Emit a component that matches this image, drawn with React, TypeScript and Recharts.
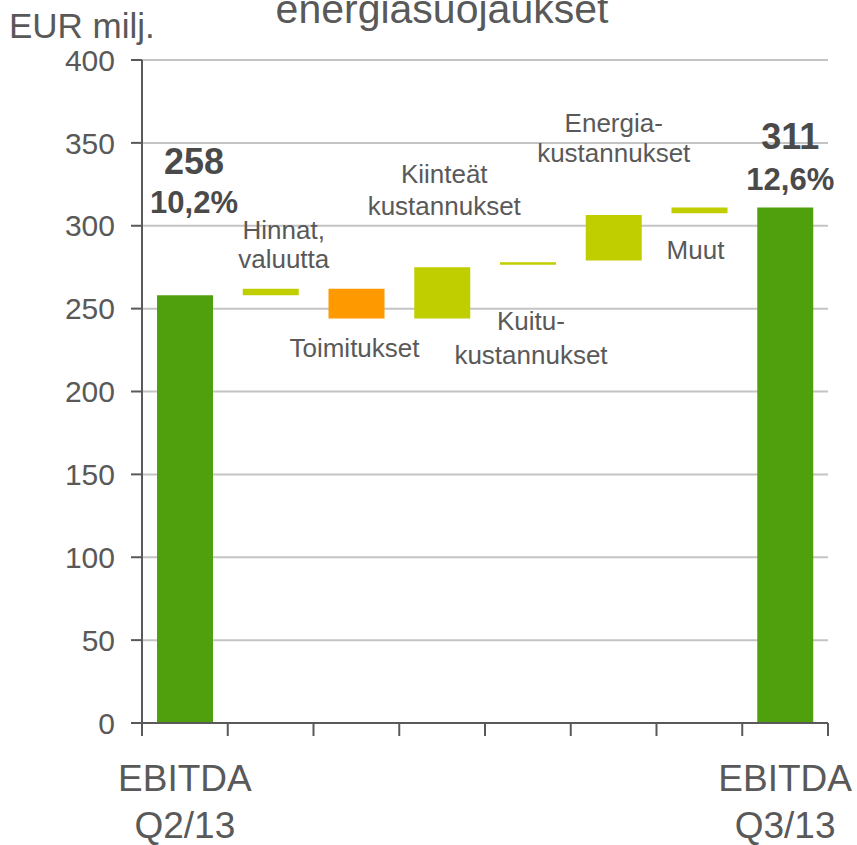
import { BarChart, Bar, XAxis, YAxis, CartesianGrid, Cell, LabelList } from "recharts";

const FONT = "'Liberation Sans', Arial, sans-serif";
const TEXT = "#595959";

// waterfall steps, EUR milj.
const categories = [
  "EBITDA Q2/13",
  "Hinnat, valuutta",
  "Toimitukset",
  "Kiinteät kustannukset",
  "Kuitukustannukset",
  "Energiakustannukset",
  "Muut",
  "EBITDA Q3/13",
];
const lowValues = [0, 258, 244, 244, 276.5, 279, 307.5, 0];
const highValues = [258, 262, 262, 275, 278, 306.5, 311, 311];
const stepKinds = ["total", "up", "down", "up", "up", "up", "up", "total"];

const annotations = [
  ["258", "10,2%"],
  ["Hinnat,", "valuutta"],
  ["Toimitukset"],
  ["Kiinteät", "kustannukset"],
  ["Kuitu-", "kustannukset"],
  ["Energia-", "kustannukset"],
  ["Muut"],
  ["311", "12,6%"],
];
const axisLabels = [["EBITDA", "Q2/13"], [], [], [], [], [], [], ["EBITDA", "Q3/13"]];
const yTicks = [0, 50, 100, 150, 200, 250, 300, 350, 400];
const boundaryTicks = [0, 1, 2, 3, 4, 5, 6, 7, 8];

const kindColor: Record<string, string> = { total: "#50A00E", up: "#C0CE00", down: "#FF9900" };

// hand placement of the text next to each bar (like the original slide)
const labelStyle = [
  { side: "above", gap: 82, lh: 39, dx: 9, bold: true },
  { side: "above", gap: 21, lh: 29, dx: 13 },
  { side: "below", gap: 38, lh: 30, dx: -2 },
  { side: "above", gap: 52, lh: 32, dx: 2 },
  { side: "below", gap: 65, lh: 34, dx: 3 },
  { side: "above", gap: 53, lh: 30, dx: 0 },
  { side: "below", gap: 46, lh: 30, dx: -4 },
  { side: "above", gap: 18, lh: 41, dx: 5, bold: true },
];

const data = categories.map((name, i) => ({
  name,
  pos: i + 0.5,
  range: [lowValues[i], highValues[i]],
}));

function renderAnnotation(props: any) {
  const { x, y, width, height, index } = props;
  const lines = annotations[index];
  const st = labelStyle[index];
  const top = Math.min(y, y + height);
  const bottom = Math.max(y, y + height);
  const cx = x + width / 2 + st.dx;
  return (
    <g>
      {lines.map((ln, k) => {
        const by =
          st.side === "above"
            ? top - st.gap - (lines.length - 1 - k) * st.lh
            : bottom + st.gap + k * st.lh;
        const size = st.bold ? (k === 0 ? 36 : 31) : 26;
        return (
          <text
            key={k}
            x={cx}
            y={by}
            textAnchor="middle"
            fontFamily={FONT}
            fontSize={size}
            fontWeight={st.bold ? 700 : 400}
            fill={st.bold ? "#4a4a4a" : TEXT}
          >
            {ln}
          </text>
        );
      })}
    </g>
  );
}

function CategoryTick(props: any) {
  const { x, y, index } = props;
  const lines = axisLabels[index] || [];
  return (
    <g>
      {lines.map((ln, k) => (
        <text key={k} x={x} y={y + 46 + k * 47} textAnchor="middle" fontFamily={FONT} fontSize={37} fill={TEXT}>
          {ln}
        </text>
      ))}
    </g>
  );
}

export default function App() {
  return (
    <div style={{ position: "absolute", left: 0, top: 0, width: 857, height: 845, background: "#fff" }}>
      <BarChart width={857} height={845} data={data} margin={{ top: 60, right: 29, left: 0, bottom: 0 }}>
        <CartesianGrid vertical={false} stroke="#c4c4c4" strokeWidth={2} />
        <YAxis
          type="number"
          domain={[0, 400]}
          ticks={yTicks}
          width={142}
          tickSize={11}
          tickMargin={16}
          axisLine={{ stroke: TEXT, strokeWidth: 2 }}
          tickLine={{ stroke: TEXT, strokeWidth: 2 }}
          tick={{ fontSize: 30, fill: TEXT, fontFamily: FONT }}
        />
        <XAxis
          xAxisId={0}
          type="number"
          dataKey="pos"
          domain={[0, 8]}
          ticks={boundaryTicks}
          tickFormatter={() => ""}
          tickSize={13}
          height={14}
          axisLine={{ stroke: TEXT, strokeWidth: 2 }}
          tickLine={{ stroke: TEXT, strokeWidth: 2 }}
        />
        <XAxis
          xAxisId="lab"
          type="category"
          dataKey="name"
          axisLine={false}
          tickLine={false}
          interval={0}
          height={108}
          tick={<CategoryTick />}
        />
        <Bar dataKey="range" xAxisId={0} barSize={56} isAnimationActive={false}>
          {data.map((d, i) => (
            <Cell key={d.name} fill={kindColor[stepKinds[i]]} />
          ))}
          <LabelList dataKey="range" content={renderAnnotation} />
        </Bar>
      </BarChart>
      <svg width={857} height={845} style={{ position: "absolute", left: 0, top: 0, pointerEvents: "none" }}>
        <text x={9} y={38} fontFamily={FONT} fontSize={35} fill={TEXT}>
          EUR milj.
        </text>
        <text x={442} y={23} textAnchor="middle" fontFamily={FONT} fontSize={41} fill={TEXT}>
          energiasuojaukset
        </text>
      </svg>
    </div>
  );
}
